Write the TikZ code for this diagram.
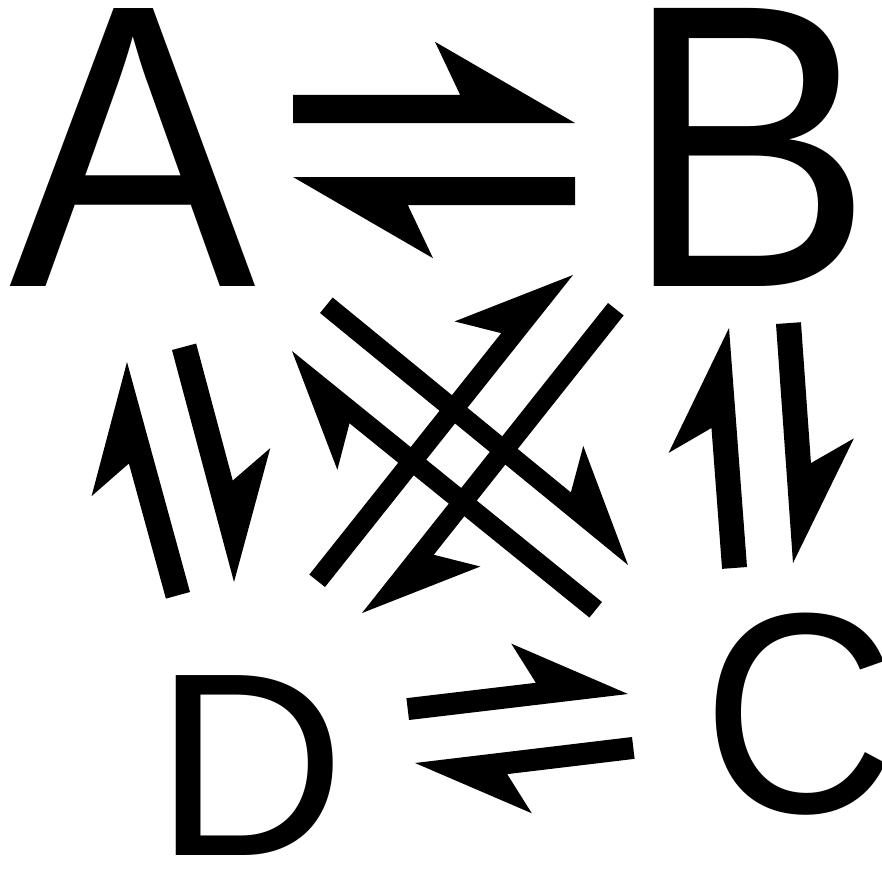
\documentclass[tikz,border=0pt]{standalone}
\usepackage{fontspec}
\setmainfont{Liberation Sans}
\usetikzlibrary{calc}
\definecolor{ink}{HTML}{000000}
\tikzset{
  letter/.style={text=ink, inner sep=0pt, anchor=base west},
}
\newcommand{\harpoon}[4]{%
  \fill[ink] let \p1=($(#4)-(#3)$), \n1={atan2(\y1,\x1)} in
    (#3) -- (#4) -- ($(#4)+(\n1:-5*#2pt)+(\n1+90:2.9*#2pt)$)
    -- ($(#4)+(\n1:-4.1*#2pt)+(\n1+90:#1pt)$) -- ($(#3)+(\n1+90:#1pt)$) -- cycle;}

\begin{document}
\begin{tikzpicture}[x=1pt, y=-1pt]
  \useasboundingbox (0,0) rectangle (882,872);
  \fill[white] (0,0) rectangle (882,872);
  \node[letter, font=\fontsize{370}{370}\selectfont, yscale=1.092] (A) at (9,286) {A};
  \node[letter, font=\fontsize{375}{375}\selectfont, yscale=1.078] (B) at (623.5,286) {B};
  \node[letter, font=\fontsize{268}{268}\selectfont, yscale=1.066] (C) at (702,812) {C};
  \node[letter, font=\fontsize{265}{265}\selectfont, yscale=0.987] (D) at (154.6,855) {D};

  \coordinate (abS) at (293,123);
  \coordinate (abT) at (575,123);
  \coordinate (baS) at (575,177);
  \coordinate (baT) at (293,177);
  \coordinate (adS) at (172,350);
  \coordinate (adT) at (234,582);
  \coordinate (daS) at (190,592);
  \coordinate (daT) at (127,362);
  \coordinate (bcS) at (776,324);
  \coordinate (bcT) at (793,563);
  \coordinate (cbS) at (747,567);
  \coordinate (cbT) at (729,328);
  \coordinate (acS) at (320,313);
  \coordinate (acT) at (628,565);
  \coordinate (caS) at (602,602);
  \coordinate (caT) at (292,351);
  \coordinate (bdS) at (608,303);
  \coordinate (bdT) at (362,613);
  \coordinate (dbS) at (325,587);
  \coordinate (dbT) at (573,275);
  \coordinate (dcS) at (409,720);
  \coordinate (dcT) at (628,694);
  \coordinate (cdS) at (632,737);
  \coordinate (cdT) at (415,763);

  \harpoon{28}{28}{abS}{abT}
  \harpoon{28}{28}{baS}{baT}
  \harpoon{25}{24}{adS}{adT}
  \harpoon{25}{24}{daS}{daT}
  \harpoon{25}{24}{bcS}{bcT}
  \harpoon{25}{24}{cbS}{cbT}
  \harpoon{20}{22}{acS}{acT}
  \harpoon{20}{22}{caS}{caT}
  \harpoon{20}{22}{bdS}{bdT}
  \harpoon{20}{22}{dbS}{dbT}
  \harpoon{22}{22}{dcS}{dcT}
  \harpoon{22}{22}{cdS}{cdT}
\end{tikzpicture}
\end{document}
